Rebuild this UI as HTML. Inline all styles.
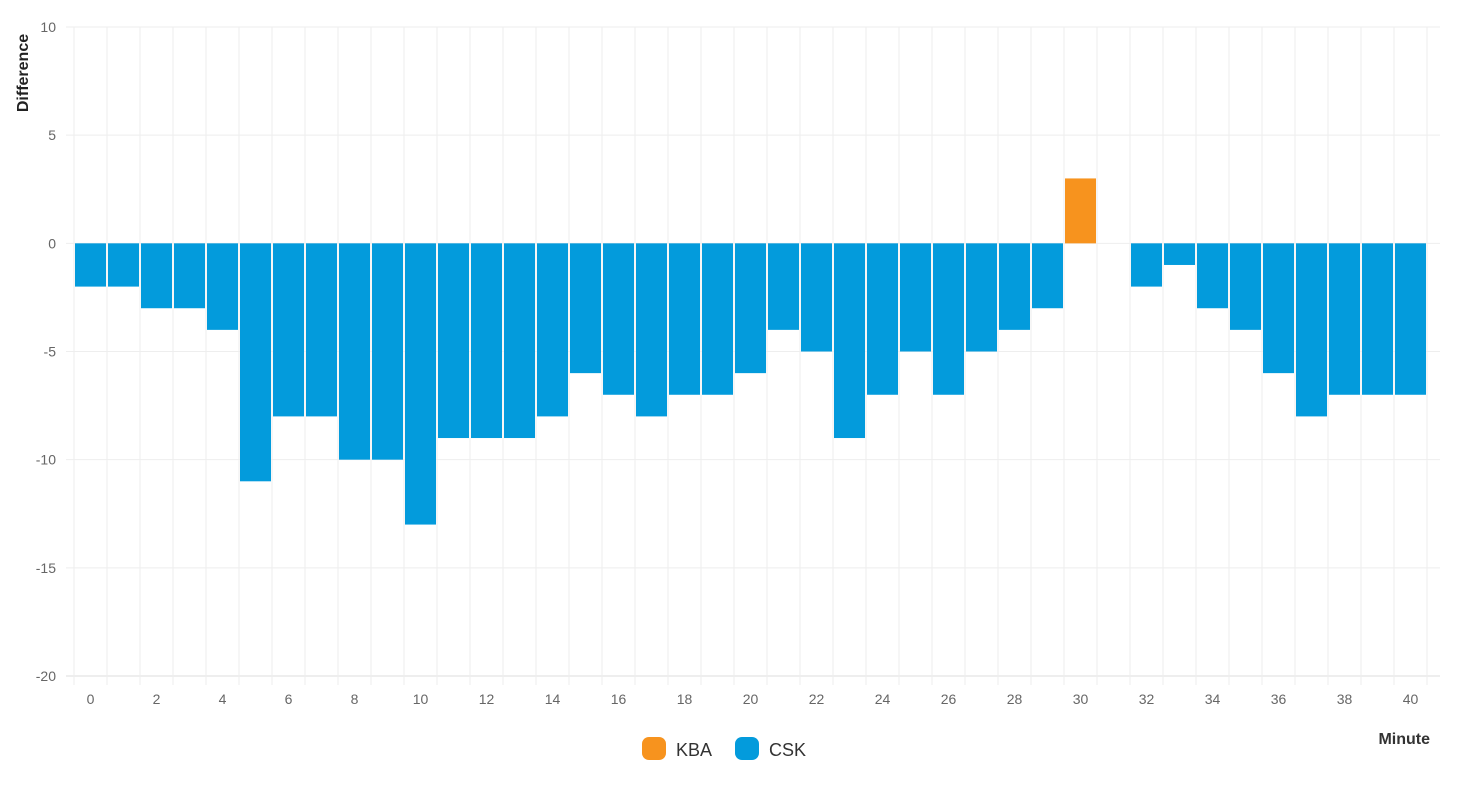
<!DOCTYPE html>
<html><head><meta charset="utf-8"><style>
body{margin:0;background:#fff;font-family:"Liberation Sans",sans-serif;}
svg text{font-family:"Liberation Sans",sans-serif;}
</style></head><body>
<svg id="chart" width="1460" height="785" xmlns="http://www.w3.org/2000/svg">
<g id="grid"></g>
<g id="bars"></g>
<g id="axes"></g>
<text transform="translate(28,73) rotate(-90)" text-anchor="middle" font-size="16" font-weight="bold" fill="#222">Difference</text>
<text x="1430" y="744" text-anchor="end" font-size="16" font-weight="bold" fill="#333">Minute</text>
<g>
<g><rect x="642" y="737" width="24" height="23" rx="7" fill="#f7931e"/><text x="676" y="756" font-size="18" fill="#333">KBA</text></g>
<g><rect x="735" y="737" width="24" height="23" rx="7" fill="#039bdc"/><text x="769" y="756" font-size="18" fill="#333">CSK</text></g>
</g>
</svg>
<script>
const minutes=[0,1,2,3,4,5,6,7,8,9,10,11,12,13,14,15,16,17,18,19,20,21,22,23,24,25,26,27,28,29,30,31,32,33,34,35,36,37,38,39,40];
const diffs=[-2,-2,-3,-3,-4,-11,-8,-8,-10,-10,-13,-9,-9,-9,-8,-6,-7,-8,-7,-7,-6,-4,-5,-9,-7,-5,-7,-5,-4,-3,3,0,-2,-1,-3,-4,-6,-8,-7,-7,-7];
const yTicks=[10,5,0,-5,-10,-15,-20];
const xLabels=[0,2,4,6,8,10,12,14,16,18,20,22,24,26,28,30,32,34,36,38,40];
const NS="http://www.w3.org/2000/svg";
const x0=74,step=33,yTop=27,yBot=676,yMax=10,yMin=-20;
function xs(i){return x0+i*step;}
function ys(v){return yTop+(yMax-v)*(yBot-yTop)/(yMax-yMin);}
function mk(t,a,p){const e=document.createElementNS(NS,t);for(const k in a)e.setAttribute(k,a[k]);p.appendChild(e);return e;}
const grid=document.getElementById('grid'),bars=document.getElementById('bars'),axes=document.getElementById('axes');
yTicks.forEach(v=>{
  const l=mk('line',{x1:66,x2:1440,y1:ys(v),y2:ys(v),stroke:v===yMin?'#ddd':'#eee','stroke-width':1},grid);
  
  
  const t=mk('text',{x:56,y:ys(v)+5,'text-anchor':'end','font-size':14,fill:'#666'},axes);
  t.textContent=v;
  
  
});
for(let i=0;i<=minutes.length;i++){
  const l=mk('line',{x1:xs(i),x2:xs(i),y1:yTop,y2:yBot+9,stroke:'#eee','stroke-width':1},grid);
  
  
}
xLabels.forEach(m=>{
  const t=mk('text',{x:xs(m)+step/2,y:704,'text-anchor':'middle','font-size':14,fill:'#666'},axes);
  t.textContent=m;
  
  
});
minutes.forEach((m,i)=>{
  const v=diffs[i];if(v===0)return;
  const y1=ys(Math.max(v,0)),y2=ys(Math.min(v,0));
  const r=mk('rect',{x:xs(i)+1,y:y1,width:step-2,height:y2-y1,fill:v>0?'#f7931e':'#039bdc'},bars);
  
  
});
</script>
</body></html>
